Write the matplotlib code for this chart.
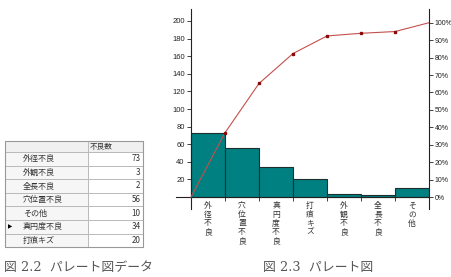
import numpy as np
import matplotlib
matplotlib.use("Agg")
import matplotlib.pyplot as plt
from matplotlib.patches import Rectangle

plt.rcParams['font.family'] = ['Noto Sans CJK JP', 'DejaVu Sans']

# table data (as entered)
table_items = ['外径不良', '外観不良', '全長不良', '穴位置不良', 'その他', '真円度不良', '打痕キズ']
table_counts = [73, 3, 2, 56, 10, 34, 20]
table_header = '不良数'
selected_row = 5

# pareto order
pareto_items = ['外径不良', '穴位置不良', '真円度不良', '打痕キズ', '外観不良', '全長不良', 'その他']
pareto_counts = [73, 56, 34, 20, 3, 2, 10]

left_ticks = [0, 20, 40, 60, 80, 100, 120, 140, 160, 180, 200]
right_ticks = [0, 10, 20, 30, 40, 50, 60, 70, 80, 90, 100]

W, H = 451, 277
fig = plt.figure(figsize=(W / 100, H / 100), dpi=100)

# ---- table drawn in pixel coords ----
tab = fig.add_axes([0, 0, 1, 1])
tab.set_xlim(0, W)
tab.set_ylim(H, 0)
tab.axis('off')

x0, x1, x2 = 5, 88, 143
y0, hh, rh = 141, 11, 13.6
grid = '#b4b4b4'
tab.add_patch(Rectangle((x0, y0), x2 - x0, hh, fc='#f0f0f0', ec=grid, lw=0.6))
tab.add_patch(Rectangle((x1, y0), x2 - x1, hh, fc='#f0f0f0', ec=grid, lw=0.6))
tab.text(x1 + 2, y0 + hh / 2, table_header, fontsize=5.5, va='center', ha='left', color='#333333')
for i, (name, v) in enumerate(zip(table_items, table_counts)):
    yy = y0 + hh + i * rh
    tab.add_patch(Rectangle((x0, yy), x1 - x0, rh, fc='#f6f6f6', ec=grid, lw=0.6))
    tab.add_patch(Rectangle((x1, yy), x2 - x1, rh, fc='white', ec=grid, lw=0.6))
    tab.text(23, yy + rh / 2, name, fontsize=5.8, va='center', ha='left', color='#333333')
    tab.text(x2 - 2.5, yy + rh / 2, str(v), fontsize=5.8, va='center', ha='right', color='#333333')
    if i == selected_row:
        tab.text(10, yy + rh / 2, '▶', fontsize=4, va='center', ha='center',
                 family='DejaVu Sans', color='black')
tab.add_patch(Rectangle((x0, y0), x2 - x0, hh + 7 * rh, fc='none', ec='#999999', lw=0.8))

cap_fam = ['DejaVu Serif', 'Noto Sans CJK JP']
fig.text(4 / W, 1 - 267 / H, '図 2.2  パレート図データ', fontsize=9.3, family=cap_fam,
         va='center', ha='left', color='#555555')
fig.text(263 / W, 1 - 267 / H, '図 2.3  パレート図', fontsize=9.3, family=cap_fam,
         va='center', ha='left', color='#555555')

# ---- pareto chart ----
ax = fig.add_axes([176 / W, 1 - 209 / H, 253 / W, 200 / H])
total = sum(pareto_counts)
ylo, yhi = -13.6, 213.6
ax.set_xlim(-15 / 34, len(pareto_counts))
ax.set_ylim(ylo, yhi)
ax.patch.set_alpha(0)

xs = np.arange(len(pareto_counts))
ax.bar(xs, pareto_counts, width=1, align='edge', color='#008080', edgecolor='#1e2e2e', lw=0.8, zorder=2)

cum = np.concatenate([[0], np.cumsum(pareto_counts)])
cx = np.arange(len(cum))
ax.plot(cx, cum, color='#c4504c', lw=0.8, zorder=3, clip_on=False)
ax.plot(cx[1:-1], cum[1:-1], ls='none', marker='s', ms=2.0, color='#8a0a0a', zorder=4)

ax.spines['top'].set_visible(False)
ax.spines['right'].set_visible(False)
ax.spines['left'].set_position(('data', 0))
ax.spines['bottom'].set_position(('data', 0))
for s in ['left', 'bottom']:
    ax.spines[s].set_color('#222222')
    ax.spines[s].set_linewidth(0.8)

ax.set_yticks(left_ticks)
ax.set_yticklabels(['' if t == 0 else str(t) for t in left_ticks])
ax.set_xticks(range(len(pareto_counts) + 1))
ax.set_xticklabels([])
ax.tick_params(axis='y', length=3, width=0.6, labelsize=5.5, pad=1.5, colors='#222222')
ax.tick_params(axis='x', length=3, width=0.6, colors='#222222')
for lab in ax.get_yticklabels():
    lab.set_family('Liberation Sans')

for i, name in enumerate(pareto_items):
    ax.text(i + 0.5, -5.5, '\n'.join(name), fontsize=5.6, ha='center', va='top',
            linespacing=1.12, color='#333333')

ax2 = ax.twinx()
ax2.set_ylim(ylo / total * 100, yhi / total * 100)
ax2.set_yticks(right_ticks)
ax2.set_yticklabels([f'{t}%' for t in right_ticks])
for s in ['left', 'top', 'bottom']:
    ax2.spines[s].set_visible(False)
ax2.spines['right'].set_color('#222222')
ax2.spines['right'].set_linewidth(0.8)
ax2.tick_params(axis='y', length=3, width=0.6, labelsize=5, pad=1, colors='#222222')
for lab in ax2.get_yticklabels():
    lab.set_family('Liberation Sans')

fig.savefig('out.png', dpi=100)
